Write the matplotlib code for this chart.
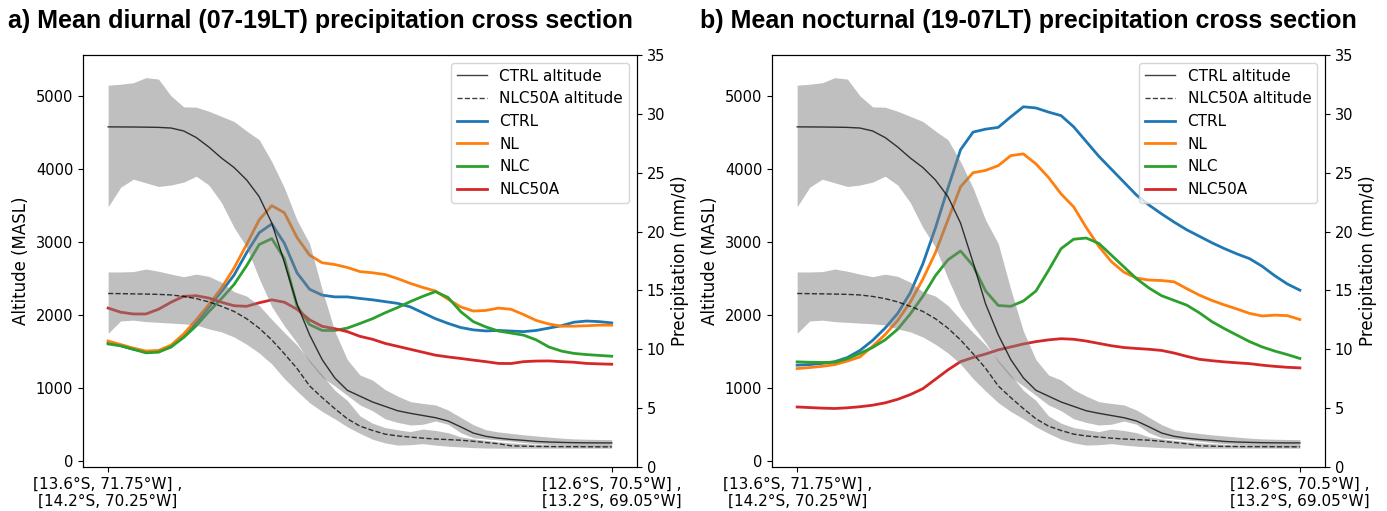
import numpy as np
import matplotlib
matplotlib.use("Agg")
import matplotlib.pyplot as plt

# distance along the transect (arbitrary units, 0 = SW end, 100 = NE end)
dist = np.linspace(0, 100, 41)

# terrain altitude (m) along the cross section, mean and +/- spread
ctrl_alt = [4576, 4575, 4574, 4572, 4569, 4560, 4520, 4430, 4300, 4150,
            4020, 3850, 3620, 3260, 2720, 2150, 1730, 1390, 1140, 970,
            890, 810, 750, 690, 655, 625, 595, 550, 470, 385,
            340, 315, 297, 285, 270, 262, 257, 253, 251, 250, 250]
ctrl_alt_hi = [5146, 5160, 5180, 5250, 5230, 5000, 4850, 4845, 4790, 4720,
               4650, 4520, 4400, 4100, 3740, 3300, 2980, 2350, 1780, 1390,
               1180, 1110, 980, 890, 815, 790, 770, 700, 600, 500,
               430, 400, 380, 360, 345, 330, 315, 305, 300, 297, 295]
ctrl_alt_lo = [3481, 3750, 3860, 3810, 3760, 3780, 3820, 3900, 3780, 3540,
               3200, 2930, 2500, 2115, 1850, 1620, 1355, 1150, 1030, 900,
               770, 690, 580, 530, 495, 505, 550, 505, 390, 320,
               305, 290, 275, 255, 240, 230, 222, 215, 210, 207, 205]
nlc50a_alt = [2295, 2293, 2290, 2287, 2283, 2275, 2255, 2225, 2180, 2120,
              2050, 1950, 1820, 1660, 1470, 1270, 1030, 870, 720, 580,
              480, 420, 370, 345, 330, 315, 303, 295, 287, 272,
              255, 238, 210, 205, 202, 200, 199, 198, 197, 196, 196]
nlc50a_alt_hi = [2590, 2590, 2595, 2630, 2600, 2560, 2525, 2560, 2530, 2450,
                 2320, 2260, 2130, 1940, 1760, 1590, 1380, 1180, 970, 830,
                 620, 520, 460, 430, 405, 440, 420, 390, 333, 305,
                 285, 265, 250, 240, 230, 225, 222, 220, 218, 216, 215]
nlc50a_alt_lo = [1750, 1920, 1930, 1910, 1900, 1890, 1880, 1865, 1810, 1770,
                 1700, 1600, 1480, 1330, 1130, 960, 800, 680, 580, 470,
                 380, 300, 250, 220, 225, 240, 220, 205, 195, 185,
                 180, 178, 178, 178, 178, 178, 178, 178, 178, 178, 178]

# precipitation (mm/d), a) diurnal 07-19LT
day_ctrl = [10.55, 10.3, 10.0, 9.8, 9.85, 10.2, 11.2, 12.3, 13.6, 14.9,
            16.3, 18.2, 19.9, 20.65, 19.0, 16.5, 15.1, 14.6, 14.45, 14.45,
            14.32, 14.2, 14.05, 13.9, 13.6, 13.1, 12.6, 12.2, 11.85, 11.65,
            11.56, 11.6, 11.55, 11.5, 11.6, 11.8, 12.0, 12.3, 12.4, 12.35, 12.24]
day_nl = [10.7, 10.4, 10.1, 9.85, 9.9, 10.35, 11.3, 12.5, 13.8, 15.2,
          16.9, 18.9, 21.0, 22.2, 21.6, 19.5, 18.0, 17.35, 17.2, 16.95,
          16.6, 16.5, 16.35, 16.0, 15.6, 15.25, 14.95, 14.25, 13.6, 13.25,
          13.3, 13.5, 13.4, 12.95, 12.45, 12.15, 11.96, 11.96, 12.0, 12.05, 12.05]
day_nlc = [10.45, 10.3, 10.0, 9.7, 9.75, 10.2, 11.0, 12.0, 13.2, 14.3,
           15.5, 17.1, 18.9, 19.4, 17.7, 13.7, 12.1, 11.6, 11.6, 11.8,
           12.19, 12.6, 13.1, 13.55, 14.05, 14.5, 14.9, 14.4, 13.2, 12.35,
           11.9, 11.55, 11.38, 11.2, 10.8, 10.2, 9.85, 9.65, 9.55, 9.48, 9.41]
day_nlc50a = [13.5, 13.15, 13.0, 13.0, 13.4, 14.0, 14.5, 14.55, 14.35, 14.0,
              13.7, 13.65, 13.95, 14.2, 14.0, 13.4, 12.5, 11.95, 11.75, 11.5,
              11.1, 10.85, 10.5, 10.25, 10.0, 9.75, 9.5, 9.35, 9.22, 9.08,
              8.95, 8.8, 8.79, 8.95, 9.0, 9.01, 8.95, 8.9, 8.8, 8.76, 8.73]

# precipitation (mm/d), b) nocturnal 19-07LT
night_ctrl = [8.65, 8.7, 8.8, 8.95, 9.3, 9.9, 10.75, 11.8, 13.05, 14.8,
              17.25, 20.3, 23.7, 26.95, 28.45, 28.7, 28.85, 29.75, 30.6, 30.5,
              30.15, 29.85, 28.9, 27.65, 26.4, 25.3, 24.2, 23.1, 22.25, 21.5,
              20.8, 20.15, 19.6, 19.05, 18.55, 18.1, 17.7, 17.05, 16.25, 15.55, 15.02]
night_nl = [8.36, 8.45, 8.55, 8.7, 9.0, 9.35, 10.25, 11.25, 12.45, 14.0,
            15.95, 18.2, 21.0, 23.8, 25.0, 25.2, 25.6, 26.45, 26.6, 25.75,
            24.6, 23.2, 22.1, 20.35, 18.75, 17.45, 16.55, 16.05, 15.88, 15.84,
            15.73, 15.15, 14.6, 14.15, 13.77, 13.42, 13.05, 12.83, 12.9, 12.86, 12.53]
night_nlc = [8.93, 8.9, 8.88, 8.9, 9.2, 9.65, 10.15, 10.8, 11.7, 13.0,
             14.5, 16.25, 17.6, 18.35, 17.1, 14.95, 13.72, 13.65, 14.1, 14.95,
             16.7, 18.55, 19.35, 19.45, 19.0, 18.0, 17.0, 16.0, 15.2, 14.55,
             14.15, 13.75, 13.1, 12.35, 11.75, 11.2, 10.65, 10.2, 9.85, 9.55, 9.22]
night_nlc50a = [5.1, 5.05, 5.0, 4.97, 5.03, 5.12, 5.25, 5.45, 5.75, 6.15,
                6.65, 7.45, 8.25, 8.95, 9.3, 9.6, 9.95, 10.2, 10.45, 10.65,
                10.8, 10.9, 10.85, 10.7, 10.5, 10.3, 10.15, 10.07, 10.0, 9.9,
                9.68, 9.4, 9.15, 9.03, 8.93, 8.85, 8.78, 8.65, 8.55, 8.47, 8.42]

xtick_pos = [0, 100]
xtick_labels = ["[13.6°S, 71.75°W] ,\n[14.2°S, 70.25°W]",
                "[12.6°S, 70.5°W] ,\n[13.2°S, 69.05°W]"]
alt_ticks = [0, 1000, 2000, 3000, 4000, 5000]
pr_ticks = [0, 5, 10, 15, 20, 25, 30, 35]

titles = ["a) Mean diurnal (07-19LT) precipitation cross section",
          "b) Mean nocturnal (19-07LT) precipitation cross section"]
panels = [(day_ctrl, day_nl, day_nlc, day_nlc50a),
          (night_ctrl, night_nl, night_nlc, night_nlc50a)]
sim_names = ["CTRL", "NL", "NLC", "NLC50A"]
sim_colors = ["tab:blue", "tab:orange", "tab:green", "tab:red"]


def draw_panel(ax, series):
    ax2 = ax.twinx()
    # precipitation on the right axis, drawn underneath the terrain shading
    for vals, name, col in zip(series, sim_names, sim_colors):
        ax2.plot(dist, vals, color=col, lw=2, label=name,
                 solid_joinstyle="round")
    ax2.set_ylim(0, 35)
    ax2.set_yticks(pr_ticks)
    ax2.set_ylabel("Precipitation (mm/d)", fontsize=12)

    ax.fill_between(dist, ctrl_alt_lo, ctrl_alt_hi, color="gray", alpha=0.5, lw=0)
    ax.fill_between(dist, nlc50a_alt_lo, nlc50a_alt_hi, color="gray", alpha=0.5, lw=0)
    ax.plot(dist, ctrl_alt, color="k", lw=1, alpha=0.75, label="CTRL altitude")
    ax.plot(dist, nlc50a_alt, color="k", lw=1, ls="--", alpha=0.75, label="NLC50A altitude")
    ax.set_zorder(ax2.get_zorder() + 1)
    ax.patch.set_visible(False)

    ax.set_ylim(-80, 5560)
    ax.set_yticks(alt_ticks)
    ax.set_ylabel("Altitude (MASL)", fontsize=12)
    ax.set_xlim(-5, 105)
    ax.set_xticks(xtick_pos)
    ax.set_xticklabels(xtick_labels)
    ax.tick_params(axis="y", labelsize=10.5)
    ax.tick_params(axis="x", labelsize=11)
    ax2.tick_params(labelsize=10.5)

    h1, l1 = ax.get_legend_handles_labels()
    h2, l2 = ax2.get_legend_handles_labels()
    ax.legend(h1 + h2, l1 + l2, loc="upper right", fontsize=11)


fig = plt.figure(figsize=(13.87, 5.11), dpi=100)
axa = fig.add_axes([0.0598, 0.0861, 0.3994, 0.8063])
axb = fig.add_axes([0.5566, 0.0861, 0.3987, 0.8063])
draw_panel(axa, panels[0])
draw_panel(axb, panels[1])

fig.text(8 / 1387, 0.958, titles[0], fontsize=18, fontweight="bold",
         family=["Liberation Sans", "DejaVu Sans"], va="center", ha="left")
fig.text(700 / 1387, 0.958, titles[1], fontsize=18, fontweight="bold",
         family=["Liberation Sans", "DejaVu Sans"], va="center", ha="left")

fig.savefig("out.png", dpi=100)
